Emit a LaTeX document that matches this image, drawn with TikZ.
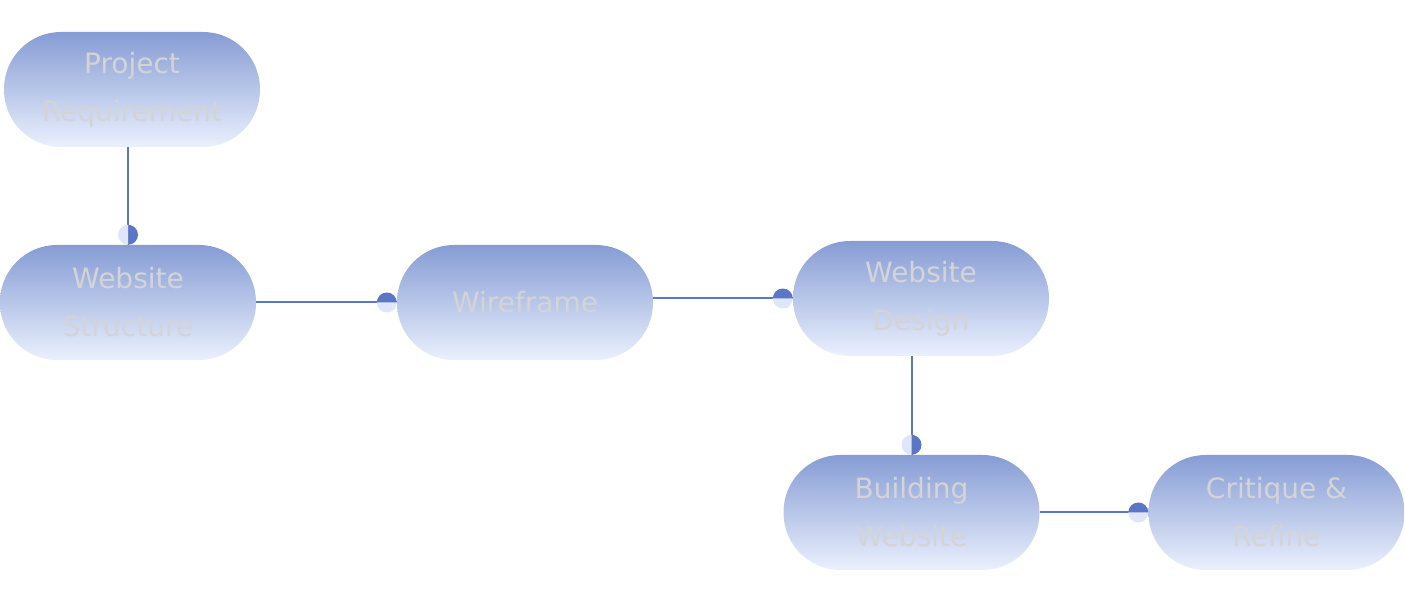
\documentclass[tikz,border=0pt]{standalone}
\usepackage{fontspec}
\setmainfont{DejaVu Sans}
\usetikzlibrary{calc}
\definecolor{topc}{HTML}{869CD4}
\definecolor{botc}{HTML}{EAF0FD}
\definecolor{txtc}{HTML}{D4D4D6}
\definecolor{linec}{HTML}{5B76C6}
\definecolor{dotdark}{HTML}{5B76C6}
\definecolor{dotlight}{HTML}{DFE6FA}
\newcommand\halfdot[2]{%
  \fill[dotdark] (#1) ++(#2:10pt) arc[start angle=#2, delta angle=180, radius=10pt] -- cycle;
  \fill[dotlight] (#1) ++(#2+180:10pt) arc[start angle=#2+180, delta angle=180, radius=10pt] -- cycle;}
\begin{document}
\begin{tikzpicture}[x=1pt,y=1pt,
  pill/.style={minimum width=256pt, minimum height=115pt, rounded corners=57pt,
    top color=topc, bottom color=botc, draw=none, inner sep=0pt,
    text=txtc, align=center, font=\fontsize{28}{48}\selectfont},
  conn/.style={draw=linec, line width=2pt}]
\useasboundingbox (0,0) rectangle (1405,602);
\node[pill] (PR) at (132,512.5) {Project\\Requirement};
\node[pill] (WS) at (128,299.5) {Website\\Structure};
\node[pill] (WF) at (525,299.5) {Wireframe};
\node[pill] (WD) at (921,303.5) {Website\\Design};
\node[pill] (BW) at (911.5,89.5) {Building\\Website};
\node[pill] (CR) at (1276.5,89.5) {Critique \&\\Refine};
\coordinate (d1) at ($(WS.north)+(0,10)$);
\coordinate (d2) at ($(WF.west)+(-10,0)$);
\coordinate (d3) at ($(WD.west)+(-10,0)$);
\coordinate (d4) at ($(BW.north)+(0,10)$);
\coordinate (d5) at ($(CR.west)+(-10,0)$);
\draw[conn] (PR.south -| WS.north) -- (WS.north);
\draw[conn] (WS.east |- WF.west) -- (WF.west);
\draw[conn] (WF.east |- WD.west) -- (WD.west);
\draw[conn] (WD.south -| BW.north) -- (BW.north);
\draw[conn] (BW.east) -- (CR.west);
\halfdot{d1}{-90}
\halfdot{d2}{0}
\halfdot{d3}{0}
\halfdot{d4}{-90}
\halfdot{d5}{0}
\end{tikzpicture}
\end{document}
